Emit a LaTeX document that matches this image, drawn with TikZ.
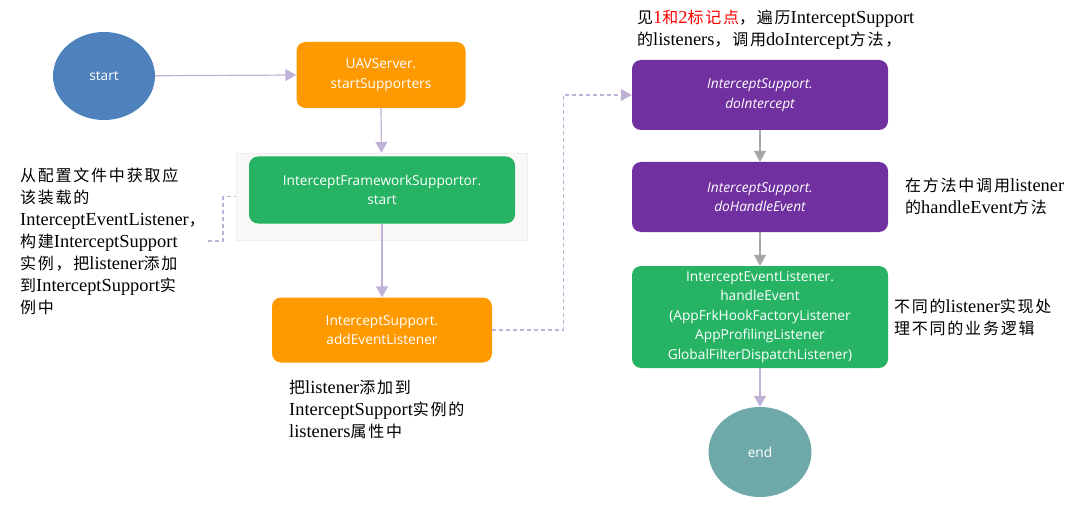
\documentclass[tikz,border=0pt]{standalone}
\usepackage{fontspec}
\setmainfont{Liberation Serif}[Scale=1.15]
\newfontfamily\boxfont{Open Sans}
\newfontfamily\cjk[LetterSpace=11]{Noto Sans CJK SC}
\newcommand{\zh}[1]{{\cjk #1}}
\usetikzlibrary{shapes.geometric,arrows.meta}

\definecolor{startblue}{RGB}{79,129,189}
\definecolor{endteal}{RGB}{111,168,168}
\definecolor{boxorange}{RGB}{255,153,0}
\definecolor{boxgreen}{RGB}{38,180,100}
\definecolor{boxpurple}{RGB}{112,48,160}
\definecolor{bggray}{RGB}{249,248,246}
\definecolor{linepurple}{RGB}{191,178,214}
\definecolor{linegray}{RGB}{166,166,166}

\begin{document}
\begin{tikzpicture}[x=1pt,y=-1pt,
  box/.style={rounded corners=9pt, text=white, align=center, inner sep=0pt,
    font=\boxfont\fontsize{13.7}{19.5}\selectfont},
  oval/.style={ellipse, text=white, inner sep=0pt,
    font=\boxfont\fontsize{13.7}{19.5}\selectfont},
  note/.style={align=left, inner sep=0pt, anchor=base west,
    font=\fontsize{16}{22}\selectfont},
  flow/.style={draw=linepurple, line width=1.2pt,
    -{Triangle[width=12pt,length=11pt]}},
  grayflow/.style={draw=linegray, line width=1.2pt,
    -{Triangle[width=12pt,length=11pt]}},
  dashconn/.style={draw=linepurple, line width=1.2pt, dash pattern=on 4pt off 3pt}]

% the space
\useasboundingbox (0,0) rectangle (1085,508);

% left column
\node[oval, fill=startblue, minimum width=102pt, minimum height=88pt] (start) at (104,76) {start};
\node[box, fill=boxorange, minimum width=169pt, minimum height=66pt] (uav) at (381,75)
  {UAVServer.\\startSupporters};
\node[fill=bggray, draw=bggray!96!black, minimum width=291pt, minimum height=87pt] (bg) at (381.5,196.5) {};
\node[box, fill=boxgreen, minimum width=266pt, minimum height=67pt] (ifs) at (382,190)
  {InterceptFrameworkSupportor.\\start};
\node[box, fill=boxorange, minimum width=220pt, minimum height=65pt] (add) at (382,330)
  {InterceptSupport.\\addEventListener};

% right column
\node[box, fill=boxpurple, minimum width=256pt, minimum height=70pt] (doint) at (760,95)
  {\itshape InterceptSupport.\\\itshape doIntercept};
\node[box, fill=boxpurple, minimum width=256pt, minimum height=70pt] (dohandle) at (760,197)
  {\itshape InterceptSupport.\\\itshape doHandleEvent};
\node[box, fill=boxgreen, minimum width=256pt, minimum height=102pt] (handle) at (760,317)
  {InterceptEventListener.\\handleEvent\\(AppFrkHookFactoryListener\\AppProfilingListener\\GlobalFilterDispatchListener)};
\node[oval, fill=endteal, minimum width=103pt, minimum height=90pt] (end) at (760,452) {end};

% the arrows
\draw[flow] (start) -- (uav.west);
\draw[flow] (uav.south) -- (bg.north);
\draw[flow] (ifs.south) -- (add.north);
\draw[dashconn, -{Triangle[width=12pt,length=11pt]}] (add.east) -- ++(71,0) |- (doint.west);
\draw[grayflow] (doint.south) -- (dohandle.north);
\draw[grayflow] (dohandle.south) -- (handle.north);
\draw[flow] (handle.south) -- (end.north);

% the notes (placed at the baseline of their last line)
\node[note] (leftnote) at (20,313)
  {\zh{从配置文件中获取应}\\
   \zh{该装载的}\\
   InterceptEventListener\zh{，}\\
   \zh{构建}InterceptSupport\\
   \zh{实例，把}listener\zh{添加}\\
   \zh{到}InterceptSupport\zh{实}\\
   \zh{例中}};
\coordinate (leftend) at (208,241);
\draw[dashconn] (leftend) -- ++(15,0) |- (bg.west);

\node[note] (addnote) at (289,437)
  {\zh{把}listener\zh{添加到}\\
   InterceptSupport\zh{实例的}\\
   listeners\zh{属性中}};
\node[note] (topnote) at (637,46)
  {\zh{见}\textcolor{red}{1\zh{和}2\zh{标记点}}\zh{，遍历}InterceptSupport\\
   \zh{的}listeners\zh{，调用}doIntercept\zh{方法，}};
\node[note] (handlenote) at (905,214)
  {\zh{在方法中调用}listener\\
   \zh{的}handleEvent\zh{方法}};
\node[note] (implnote) at (894,334)
  {\zh{不同的}listener\zh{实现处}\\
   \zh{理不同的业务逻辑}};

\end{tikzpicture}
\end{document}
